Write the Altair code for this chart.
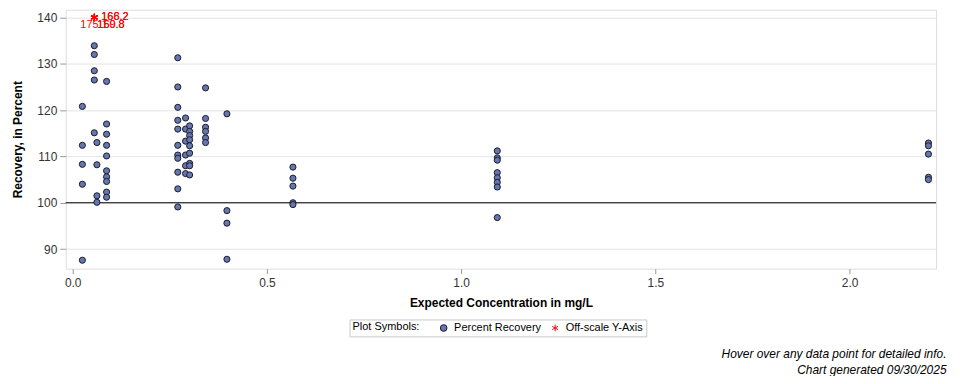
import altair as alt
import pandas as pd

# Expected concentration (mg/L) for each group of samples
conc_levels = [0.0249, 0.0556, 0.0623, 0.0872, 0.2705, 0.2905, 0.301, 0.342, 0.397, 0.567, 1.093, 2.203]

# Percent recovery values for each concentration group
rec_a = [120.8, 112.4, 108.3, 104.0, 87.6]
rec_b = [133.9, 132.0, 128.5, 126.5, 115.1]
rec_b2 = [113.0, 108.2, 101.5, 100.1]
rec_c = [126.2, 117.0, 114.8, 112.4, 110.1, 106.9, 105.6, 104.6, 102.3, 101.2]
rec_d = [131.3, 125.0, 120.6, 117.8, 115.9, 112.4, 110.3, 109.6, 106.6, 103.0, 99.1]
rec_e = [118.3, 115.9, 113.3, 110.3, 108.0, 106.3]
rec_f = [116.6, 115.4, 114.5, 113.6, 112.3, 110.7, 108.5, 108.0, 106.0]
rec_g = [124.8, 118.2, 116.3, 115.4, 114.0, 113.0]
rec_h = [119.2, 98.3, 95.6, 87.8]
rec_i = [107.7, 105.3, 103.6, 100.0, 99.6]
rec_j = [111.2, 109.7, 109.2, 106.5, 105.4, 104.4, 103.4, 96.8]
rec_k = [112.9, 112.3, 110.5, 105.5, 105.0]
recovery_groups = [rec_a, rec_b, rec_b2, rec_c, rec_d, rec_e, rec_f, rec_g, rec_h, rec_i, rec_j, rec_k]

# Off-scale values (plotted at the top of the axis, at 140)
offscale_conc = 0.0556
offscale_values = [166.2, 168.2, 175.1, 169.8, 150.8]
offscale_place = ["tr", "tr", "bl", "br", "br"]
offscale_plot_y = 140

series_names = ["Percent Recovery", "Off-scale Y-Axis"]

rows = []
for c, grp in zip(conc_levels, recovery_groups):
    for v in grp:
        rows.append({"conc": c, "rec": v, "series": series_names[0]})
df = pd.DataFrame(rows)

off_df = pd.DataFrame({
    "conc": [offscale_conc] * len(offscale_values),
    "rec": [offscale_plot_y] * len(offscale_values),
    "label": [f"{v:.1f}" for v in offscale_values],
    "place": offscale_place,
    "series": [series_names[1]] * len(offscale_values),
})

FONT = "Liberation Sans"
STAR = "M0,-1L0,1M-0.866,-0.5L0.866,0.5M-0.866,0.5L0.866,-0.5"

xscale = alt.Scale(domain=[-0.0179, 2.2226], nice=False, zero=False)
yscale = alt.Scale(domain=[85.77, 141.66], nice=False, zero=False)

legend = alt.Legend(
    title="Plot Symbols:", orient="none", legendX=285, legendY=311,
    direction="horizontal", titleOrient="left", titleFontWeight="normal",
    titleFont=FONT, titleFontSize=11, titleColor="black", titlePadding=18,
    labelFont=FONT, labelFontSize=11, labelColor="black", labelOffset=5,
    columnPadding=8, symbolSize=45, symbolStrokeWidth=1,
    strokeColor="#c8c8c8", padding=3, cornerRadius=0,
)

fill_scale = alt.Scale(domain=series_names, range=["#6577AE", "transparent"])
stroke_scale = alt.Scale(domain=series_names, range=["#1b1b2b", "#ff0000"])
shape_scale = alt.Scale(domain=series_names, range=["circle", STAR])

x_enc = alt.X("conc:Q", scale=xscale, axis=alt.Axis(
    title="Expected Concentration in mg/L", values=[0, 0.5, 1.0, 1.5, 2.0], format=".1f",
    grid=False, domain=False, tickColor="#999999", tickSize=5, labelPadding=4,
    titleFont=FONT, titleFontSize=12, titleFontWeight="bold", titleColor="black", titlePadding=9,
    labelFont=FONT, labelFontSize=12, labelColor="#333333"))
y_enc = alt.Y("rec:Q", scale=yscale, axis=alt.Axis(
    title="Recovery, in Percent", values=[90, 100, 110, 120, 130, 140],
    grid=True, gridColor="#e3e3e3", domain=False, tickColor="#999999", tickSize=6, labelPadding=3,
    titleFont=FONT, titleFontSize=12, titleFontWeight="bold", titleColor="black", titlePadding=12,
    labelFont=FONT, labelFontSize=12, labelColor="#333333"))

ref = alt.Chart(pd.DataFrame({"ref": [100]})).mark_rule(color="black", strokeWidth=1).encode(
    y=alt.Y("ref:Q", scale=yscale))

points = alt.Chart(df).mark_point(filled=True, opacity=1, size=38, strokeWidth=1).encode(
    x=x_enc, y=y_enc,
    fill=alt.Fill("series:N", scale=fill_scale, legend=legend),
    stroke=alt.Stroke("series:N", scale=stroke_scale, legend=legend),
    shape=alt.Shape("series:N", scale=shape_scale, legend=legend),
)

stars = alt.Chart(off_df).mark_point(opacity=1, size=55, strokeWidth=1.2).encode(
    x=alt.X("conc:Q", scale=xscale), y=alt.Y("rec:Q", scale=yscale),
    fill=alt.Fill("series:N", scale=fill_scale, legend=legend),
    stroke=alt.Stroke("series:N", scale=stroke_scale, legend=legend),
    shape=alt.Shape("series:N", scale=shape_scale, legend=legend),
)

def label_layer(place, dx, dy, align):
    return alt.Chart(off_df).transform_filter(alt.datum.place == place).mark_text(
        color="#ff0000", font=FONT, fontSize=11, align=align, baseline="middle", dx=dx, dy=dy
    ).encode(x=alt.X("conc:Q", scale=xscale), y=alt.Y("rec:Q", scale=yscale), text="label:N")

labels = label_layer("tr", 7, 0, "left") + label_layer("bl", -14, 8, "left") + label_layer("br", 3, 8, "left")

chart = alt.layer(ref, points, stars, labels).properties(
    width=874, height=260,
    autosize=alt.AutoSizeParams(type="none"),
    padding={"left": 58, "top": 1, "right": 16, "bottom": 107},
    title=alt.TitleParams(
        text=["Hover over any data point for detailed info.", "Chart generated 09/30/2025"],
        orient="bottom", anchor="end", font=FONT, fontSize=12, fontStyle="italic",
        fontWeight="normal", color="black", offset=12, dx=10, lineHeight=16),
).configure_view(stroke="#a0a0a0", strokeWidth=1).configure(background="white")

chart.save("out.html", embed_options={"renderer": "svg", "actions": False})
